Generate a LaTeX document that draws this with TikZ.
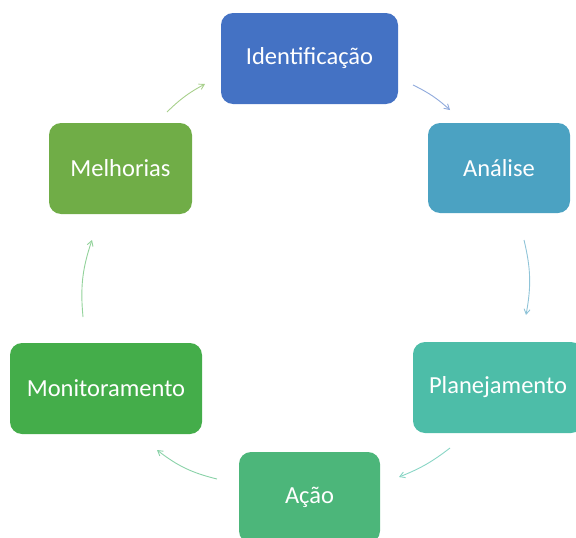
\documentclass[tikz,border=0pt]{standalone}
\usepackage{fontspec}
\setmainfont{Carlito}
\usetikzlibrary{arrows.meta}
\definecolor{cId}{HTML}{4472C4}
\definecolor{cAn}{HTML}{4BA2C2}
\definecolor{cPl}{HTML}{4DBDA8}
\definecolor{cAc}{HTML}{4CB67A}
\definecolor{cMo}{HTML}{44AD4A}
\definecolor{cMe}{HTML}{70AD47}
\definecolor{aId}{HTML}{8FA9DC}
\definecolor{aAn}{HTML}{90C4D8}
\definecolor{aPl}{HTML}{88D5C5}
\definecolor{aAc}{HTML}{8AD2A8}
\definecolor{aMo}{HTML}{92D29A}
\definecolor{aMe}{HTML}{A8D08C}
\tikzset{
  box/.style={rounded corners=12pt, text=white, align=center,
    font=\fontsize{24.5}{28}\selectfont, inner sep=0pt},
  flow/.style={line width=0.9pt, -{Straight Barb[length=5pt,width=6pt]}}
}
\begin{document}
\begin{tikzpicture}[x=1pt,y=-1pt]
\useasboundingbox (0,0) rectangle (576,538);
\node[box, fill=cId, minimum width=177pt, minimum height=91pt] (id) at (309.5,58.5) {Identificação};
\node[box, fill=cAn, minimum width=142pt, minimum height=90pt] (an) at (499,168) {Análise};
\node[box, fill=cPl, minimum width=170pt, minimum height=91pt] (pl) at (498,387.5) {Planejamento};
\node[box, fill=cAc, minimum width=141pt, minimum height=91pt] (ac) at (309.5,497.5) {Ação};
\node[box, fill=cMo, minimum width=192pt, minimum height=91pt] (mo) at (106,388.5) {Monitoramento};
\node[box, fill=cMe, minimum width=143pt, minimum height=91pt] (me) at (120.5,168.5) {Melhorias};
\coordinate (a1s) at (413,85);  \coordinate (a1e) at (450,110);
\coordinate (a2s) at (524,240); \coordinate (a2e) at (526,315);
\coordinate (a3s) at (450,448); \coordinate (a3e) at (399,477);
\coordinate (a4s) at (217,479); \coordinate (a4e) at (157,450);
\coordinate (a5s) at (83,317);  \coordinate (a5e) at (92,240);
\coordinate (a6s) at (167,112); \coordinate (a6e) at (205,84);
\draw[flow, draw=aId] (a1s) to[bend left=8] (a1e);
\draw[flow, draw=aAn] (a2s) to[bend left=12] (a2e);
\draw[flow, draw=aPl] (a3s) to[bend left=8] (a3e);
\draw[flow, draw=aAc] (a4s) to[bend left=12] (a4e);
\draw[flow, draw=aMo] (a5s) to[bend left=12] (a5e);
\draw[flow, draw=aMe] (a6s) to[bend left=8] (a6e);
\end{tikzpicture}
\end{document}
